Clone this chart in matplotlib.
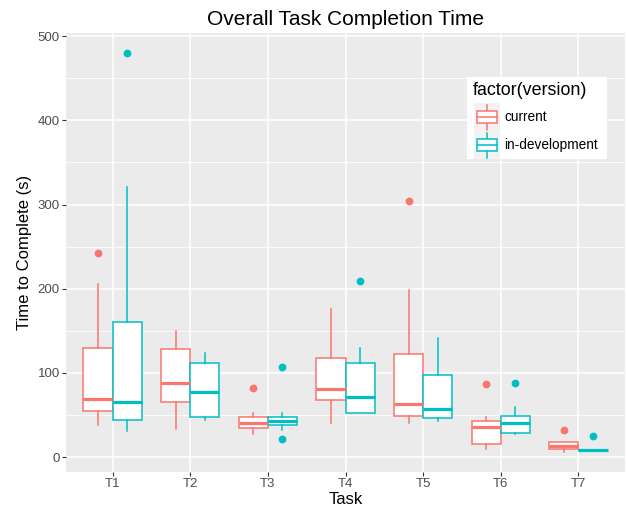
import numpy as np
import matplotlib
matplotlib.use('Agg')
import matplotlib.pyplot as plt
from matplotlib.lines import Line2D
from matplotlib.patches import Rectangle

plt.rcParams['font.family'] = ['Liberation Sans', 'DejaVu Sans']

tasks = ['T1', 'T2', 'T3', 'T4', 'T5', 'T6', 'T7']
versions = ['current', 'in-development']

# box stats (seconds)
current_lo = [38, 33, 27, 41, 41, 10, 6]
current_q1 = [55, 66, 35, 68, 49, 15, 9.5]
current_med = [69, 88, 41, 81, 63, 36, 13.5]
current_q3 = [129, 128, 48, 118, 122, 43, 17.5]
current_hi = [206, 150, 52, 176, 199, 48, 17.5]
current_out = [[243], [], [82], [], [304], [87], [32]]

dev_lo = [31, 44, 32, 52, 43, 27, 9]
dev_q1 = [44, 48, 38, 52, 46, 29, 9]
dev_med = [65, 77, 43, 71, 57, 41, 9]
dev_q3 = [161, 112, 48, 112, 98, 49, 9]
dev_hi = [321, 124, 52, 129, 141, 60, 9]
dev_out = [[480], [], [107, 22], [209], [], [88], [25]]

colors = ['#F8766D', '#00BFC4']

W, H = 626, 513


def make_stats(lo, q1, med, q3, hi, out):
    return [dict(whislo=lo[i], q1=q1[i], med=med[i], q3=q3[i], whishi=hi[i],
                 fliers=out[i]) for i in range(len(lo))]


series = [make_stats(current_lo, current_q1, current_med, current_q3, current_hi, current_out),
          make_stats(dev_lo, dev_q1, dev_med, dev_q3, dev_hi, dev_out)]

fig = plt.figure(figsize=(W / 100, H / 100), dpi=100)
ax = fig.add_axes([66 / W, 41 / H, 559 / W, 439 / H])
ax.set_facecolor('#EBEBEB')

x = np.arange(1, len(tasks) + 1)
w = 0.375
for k, stats in enumerate(series):
    c = colors[k]
    pos = x + (k - 0.5) * w
    ax.bxp(stats, positions=pos, widths=w, showcaps=False, patch_artist=True,
           boxprops=dict(facecolor='white', edgecolor=c, linewidth=1.1),
           whiskerprops=dict(color=c, linewidth=1.1),
           medianprops=dict(color=c, linewidth=2.3, solid_capstyle='butt'),
           flierprops=dict(marker='o', markerfacecolor=c, markeredgecolor=c, markersize=4.6),
           zorder=3)

ax.set_xlim(0.4, 7.6)
ax.set_ylim(-17.7, 503.7)
ax.set_xticks(x)
ax.set_xticklabels(tasks)
ax.set_yticks([0, 100, 200, 300, 400, 500])
ax.set_yticks([50, 150, 250, 350, 450], minor=True)
ax.grid(True, which='major', color='white', linewidth=1.1, zorder=0)
ax.grid(True, which='minor', axis='y', color='white', linewidth=0.55, zorder=0)
ax.set_axisbelow(True)
for s in ax.spines.values():
    s.set_visible(False)
ax.tick_params(which='major', length=3, width=0.8, color='#333333',
               labelsize=9.5, labelcolor='#4D4D4D', pad=1.5)
ax.tick_params(which='minor', length=0)

ax.set_title('Overall Task Completion Time', fontsize=15, pad=6)
ax.set_xlabel('Task', fontsize=12, labelpad=1)
ax.set_ylabel('Time to Complete (s)', fontsize=12, labelpad=4)


# legend drawn by hand in figure pixels (from top-left)
def fx(px):
    return px / W


def fy(py):
    return 1 - py / H


tf = fig.transFigure
fig.patches.append(Rectangle((fx(467), fy(159)), fx(607) - fx(467), fy(77) - fy(159),
                             facecolor='white', edgecolor='none', transform=tf, zorder=5))
fig.text(fx(473), fy(91), 'factor(version)', fontsize=12.9, va='center', ha='left', zorder=6)
key_y = [117, 145]
for c, label, ky in zip(colors, versions, key_y):
    fig.patches.append(Rectangle((fx(474), fy(ky + 13.5)), fx(500) - fx(474), fy(ky - 13.5) - fy(ky + 13.5),
                                 facecolor='#F2F2F2', edgecolor='none', transform=tf, zorder=6))
    fig.lines.append(Line2D([fx(487), fx(487)], [fy(ky + 12.5), fy(ky - 12.5)], color=c,
                            linewidth=1.1, transform=tf, zorder=7))
    fig.patches.append(Rectangle((fx(477), fy(ky + 6)), fx(497) - fx(477), fy(ky - 6) - fy(ky + 6),
                                 facecolor='white', edgecolor=c, linewidth=1.1, transform=tf, zorder=8))
    fig.lines.append(Line2D([fx(477), fx(497)], [fy(ky), fy(ky)], color=c,
                            linewidth=1.1, transform=tf, zorder=9))
    fig.text(fx(504), fy(ky), label, fontsize=9.8, va='center', ha='left', zorder=9)

fig.savefig('out.png', dpi=100)
